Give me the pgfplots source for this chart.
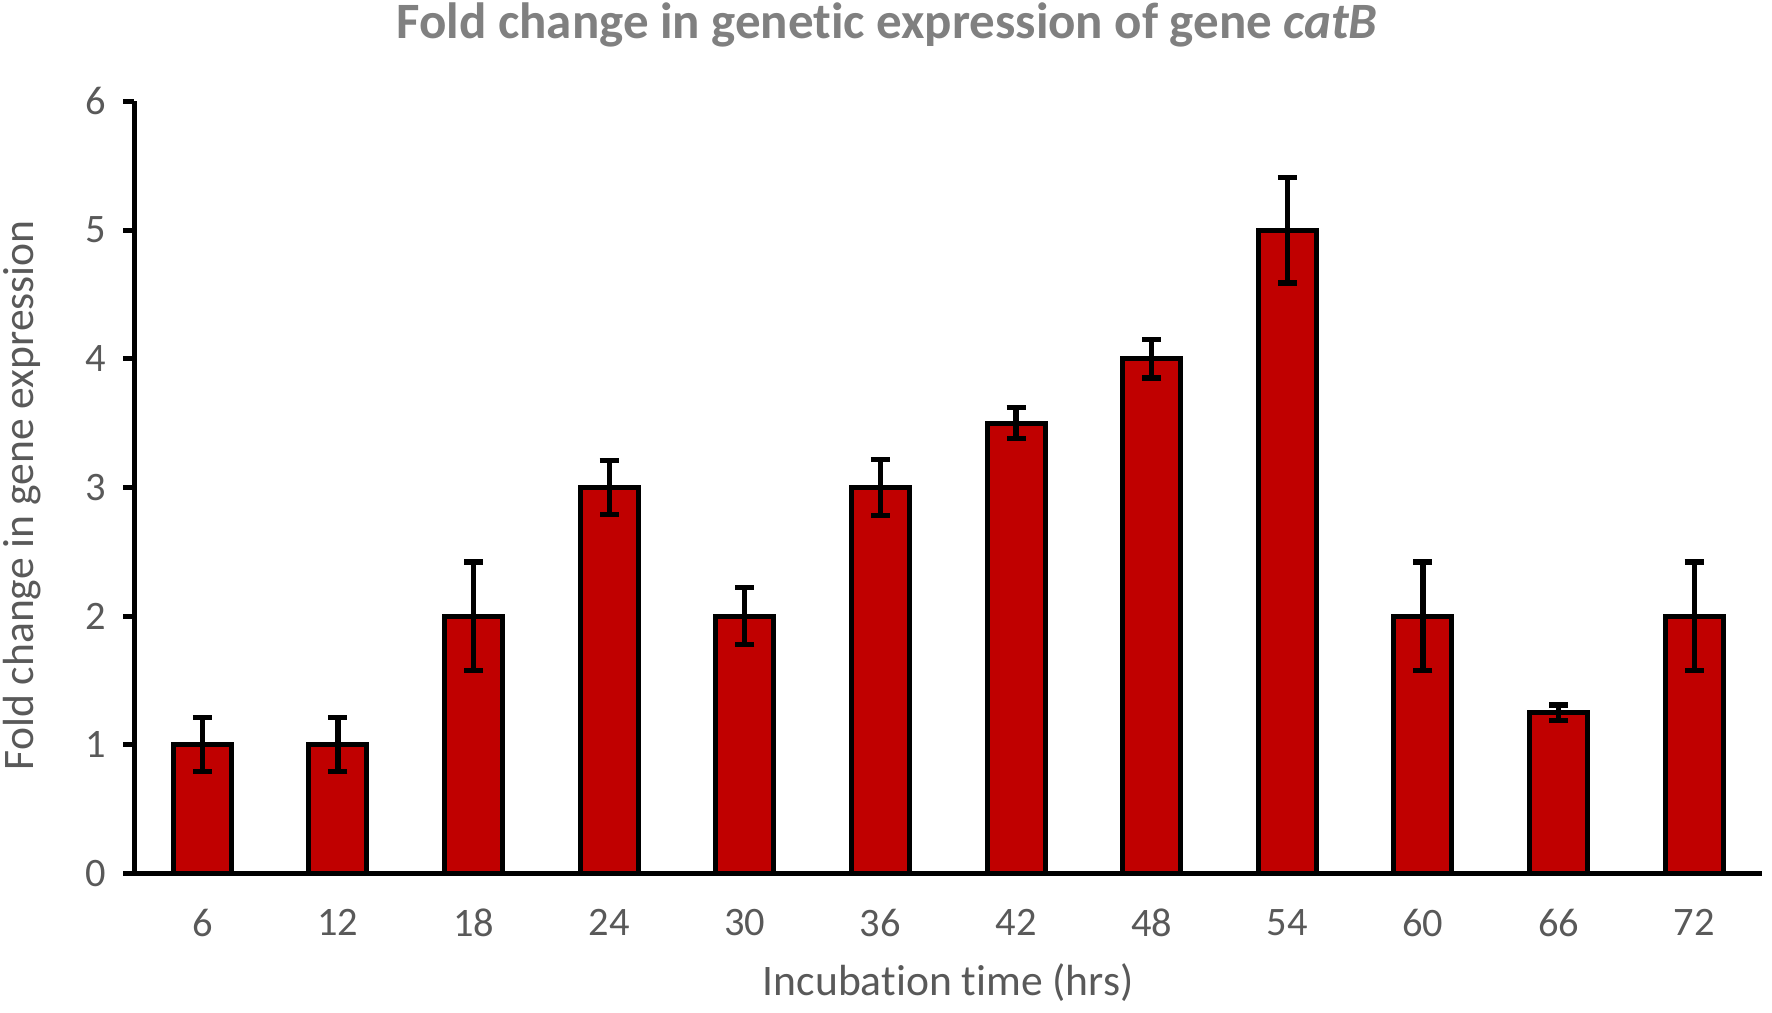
\documentclass[border=0pt]{standalone}
\usepackage{pgfplots}
\pgfplotsset{compat=1.18}
\usepackage{fontspec}
\setmainfont[RawFeature={-liga,-clig,-calt,-rlig,-dlig}]{Carlito}
\definecolor{barred}{HTML}{C00000}
\definecolor{txtgray}{HTML}{595959}
\definecolor{titlegray}{HTML}{808080}
\begin{document}
\begin{tikzpicture}
\useasboundingbox (-1.345cm,-1.395cm) rectangle (16.375cm,8.735cm);
\begin{axis}[
  at={(0,0)}, anchor=origin,
  scale only axis,
  width=16.275cm, height=7.72cm,
  xmin=0.5, xmax=12.5, ymin=0, ymax=6,
  axis x line*=bottom, axis y line*=left,
  axis line style={line width=1.4pt, black},
  xtick={1,...,12},
  xticklabels={6,12,18,24,30,36,42,48,54,60,66,72},
  extra x ticks={0.5,1.5,...,12.5},
  extra x tick labels={},
  extra x tick style={major tick length=0.11cm, tick style={line width=1.4pt, black}},
  ytick={0,1,...,6},
  tick align=outside,
  major tick length=0.11cm,
  tick style={line width=1.4pt, black},
  x tick style={draw=none},
  ticklabel style={font=\fontsize{11.5}{13}\selectfont, text=txtgray},
  /pgf/number format/assume math mode=true,
  xticklabel style={anchor=center, yshift=-0.38cm},
  yticklabel style={anchor=center, xshift=-0.28cm},
  xlabel={Incubation time (hrs)},
  ylabel={Fold change in gene expression},
  label style={font=\fontsize{12.4}{15}\selectfont, text=txtgray},
  xlabel style={at={(axis description cs:0.5,0)}, anchor=center, yshift=-1.095cm},
  ylabel style={at={(axis description cs:0,0.49)}, anchor=center, yshift=1.12cm},
  clip=false,
]
\addplot[ybar, bar width=0.58cm, fill=barred, draw=black, line width=1.4pt,
  error bars/.cd, y dir=both, y explicit,
  error bar style={line width=1.5pt, black},
  error mark options={rotate=90, mark size=2.7pt, line width=1.5pt, black}]
  table[x=x, y=y, y error=e] {
x y e
1 1 0.21
2 1 0.21
3 2 0.42
4 3 0.21
5 2 0.22
6 3 0.22
7 3.5 0.12
8 4 0.15
9 5 0.41
10 2 0.42
11 1.25 0.06
12 2 0.42
};
\end{axis}
\node[font=\bfseries\fontsize{14.5}{17}\selectfont, text=titlegray] at (7.525cm,8.485cm) {Fold change in genetic expression of gene \textit{catB}};
\end{tikzpicture}
\end{document}
